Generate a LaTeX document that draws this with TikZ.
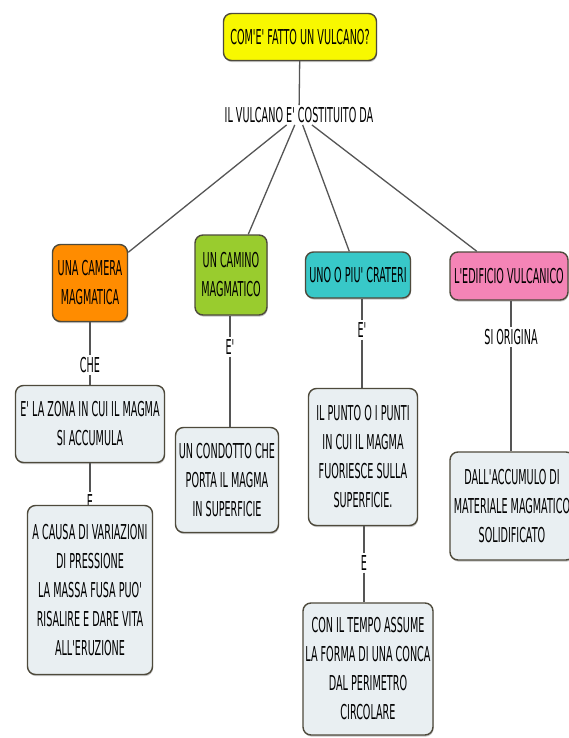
\documentclass[tikz,border=0pt]{standalone}
\usepackage{fontspec}
\setmainfont{DejaVu Sans}[FakeStretch=0.47,Ligatures=TeXOff]
\usepackage{tikz}
\usetikzlibrary{shadows}
\definecolor{vyellow}{HTML}{F8F800}
\definecolor{vorange}{HTML}{FF8C00}
\definecolor{vgreen}{HTML}{99CC2E}
\definecolor{vteal}{HTML}{38C8C8}
\definecolor{vpink}{HTML}{F484B6}
\definecolor{vpale}{HTML}{E9EFF2}
\definecolor{vedge}{HTML}{4E4A3C}
\definecolor{vline}{HTML}{555555}

\begin{document}
\begin{tikzpicture}[x=1pt,y=-1pt,
	every node/.style={font=\fontsize{20.5}{29}\selectfont,align=center,inner sep=2pt},
	box/.style={draw=vedge,line width=1.4pt,rounded corners=8pt,
		drop shadow={shadow xshift=0.6pt,shadow yshift=-1.6pt,opacity=0.45}},
	topic/.style={box,fill=#1},
	info/.style={box,fill=vpale},
	link/.style={draw=vline,line width=1.3pt}]
	\fill[white] (0,0) rectangle (569,738);
	\useasboundingbox (0,0) rectangle (569,738);

	%title and first link word
	\node[topic=vyellow,minimum width=153pt,minimum height=47pt] (title) at (300,37) {COM'E' FATTO UN VULCANO?};
	\node (lab) at (299,115) {IL VULCANO E' COSTITUITO DA};

	%the four parts
	\node[topic=vorange,minimum width=75pt,minimum height=77pt] (camera) at (90,283) {UNA CAMERA\\MAGMATICA};
	\node[topic=vgreen,minimum width=72pt,minimum height=80pt] (camino) at (231,275) {UN CAMINO\\MAGMATICO};
	\node[topic=vteal,minimum width=105pt,minimum height=46pt] (crateri) at (358,275) {UNO O PIU' CRATERI};
	\node[topic=vpink,minimum width=118pt,minimum height=48pt] (edificio) at (509,276) {L'EDIFICIO VULCANICO};

	%camera magmatica branch
	\node (che) at (90,365) {CHE};
	\node[info,minimum width=149pt,minimum height=77pt] (zona) at (90,424) {E' LA ZONA IN CUI IL MAGMA\\SI ACCUMULA};
	\node (ezona) at (90,502) {E};
	\node[info,minimum width=125pt,minimum height=169pt] (causa) at (90,590) {A CAUSA DI VARIAZIONI\\DI PRESSIONE\\LA MASSA FUSA PUO'\\RISALIRE E DARE VITA\\ALL'ERUZIONE};

	%camino branch
	\node (ecam) at (230,347) {E'};
	\node[info,minimum width=103pt,minimum height=105pt] (condotto) at (227,480) {UN CONDOTTO CHE\\PORTA IL MAGMA\\IN SUPERFICIE};

	%crateri branch
	\node (ecrat) at (362,330) {E'};
	\node[info,minimum width=109pt,minimum height=137pt] (punto) at (363,457) {IL PUNTO O I PUNTI\\IN CUI IL MAGMA\\FUORIESCE SULLA\\SUPERFICIE.};
	\node (epunto) at (364,563) {E};
	\node[info,minimum width=130pt,minimum height=132pt] (conca) at (368,669) {CON IL TEMPO ASSUME\\LA FORMA DI UNA CONCA\\DAL PERIMETRO\\CIRCOLARE};

	%edificio branch
	\node (orig) at (511,337) {SI ORIGINA};
	\node[info,minimum width=124pt,minimum height=108pt] (accumulo) at (512,506) {DALL'ACCUMULO DI\\MATERIALE MAGMATICO\\SOLIDIFICATO};

	%connectors
	\draw[link] (title) -- (lab);
	\draw[link] (lab) -- (camera);
	\draw[link] (lab) -- (camino);
	\draw[link] (lab) -- (crateri);
	\draw[link] (lab) -- (edificio);
	\draw[link] (camera) -- (che);
	\draw[link] (che) -- (zona);
	\draw[link] (zona) -- (ezona);
	\draw[link] (camino.south -| ecam) -- (ecam);
	\draw[link] (ecam) -- (ecam |- condotto.north);
	\draw[link] (crateri.south -| ecrat) -- (ecrat);
	\draw[link] (ecrat) -- (ecrat |- punto.north);
	\draw[link] (punto.south -| epunto) -- (epunto);
	\draw[link] (epunto) -- (epunto |- conca.north);
	\draw[link] (edificio.south -| orig) -- (orig);
	\draw[link] (orig) -- (orig |- accumulo.north);
\end{tikzpicture}
\end{document}
